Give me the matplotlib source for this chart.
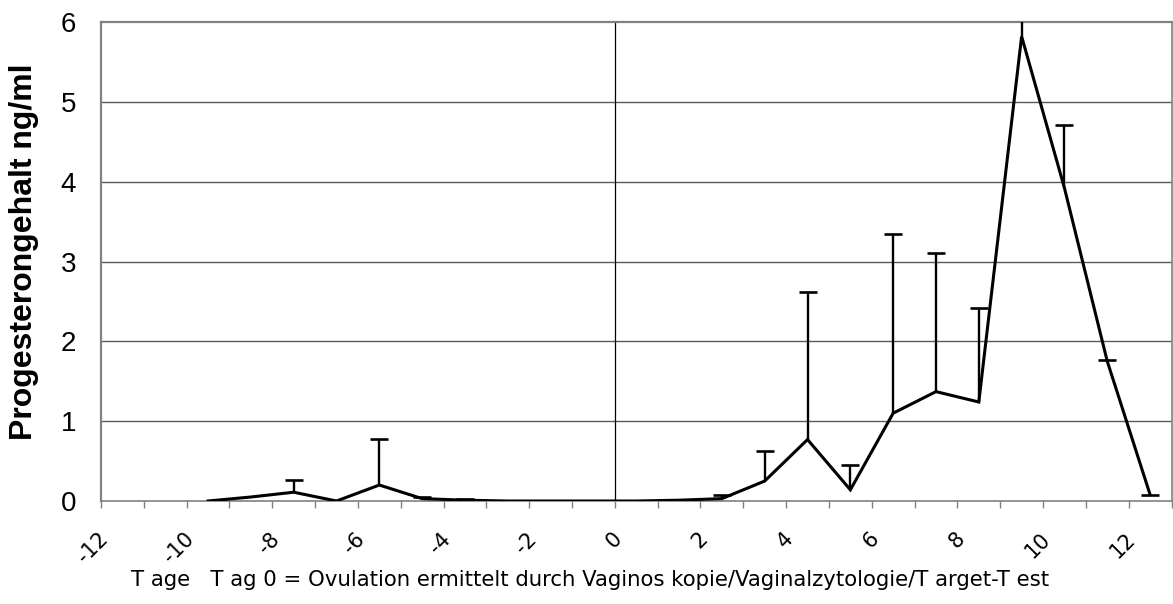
import matplotlib.pyplot as plt
import numpy as np
from matplotlib.transforms import ScaledTranslation

# Tage relativ zur Ovulation (Messwerte jeweils zwischen zwei Tagen)
days = [
    -9.5, -8.5, -7.5, -6.5, -5.5, -4.5, -3.5, -2.5, -1.5, -0.5, 0.5, 1.5,
    2.5, 3.5, 4.5, 5.5, 6.5, 7.5, 8.5, 9.5, 10.5, 11.5, 12.5,
]

# mittlerer Progesterongehalt ng/ml
progesterone = [
    0.0, 0.05, 0.11, 0.0, 0.20, 0.03, 0.01, 0.0, 0.0, 0.0, 0.0, 0.01,
    0.03, 0.25, 0.77, 0.14, 1.10, 1.37, 1.24, 5.82, 3.92, 1.75, 0.08,
]

# obere Grenze der Fehlerbalken (nan = kein Balken)
upper = [
    np.nan, np.nan, 0.26, np.nan, 0.78, 0.05, 0.025, np.nan, np.nan, np.nan, np.nan, np.nan,
    0.07, 0.63, 2.62, 0.45, 3.34, 3.11, 2.42, 6.10, 4.71, 1.77, 0.08,
]

x_ticks = list(range(-12, 13, 2))
y_ticks = [0, 1, 2, 3, 4, 5, 6]

x_label = "T age   T ag 0 = Ovulation ermittelt durch Vaginos kopie/Vaginalzytologie/T arget-T est"
y_label = "Progesterongehalt ng/ml"

narrow = ["Liberation Sans Narrow", "DejaVu Sans"]

W, H = 1173, 604
fig = plt.figure(figsize=(W / 100, H / 100), dpi=100)
left, right, top, bottom = 101, 1171.5, 22, 501
ax = fig.add_axes([left / W, 1 - bottom / H, (right - left) / W, (bottom - top) / H])

days_arr = np.asarray(days)
prog_arr = np.asarray(progesterone)
upper_arr = np.asarray(upper)

ax.set_xlim(-12, 13)
ax.set_ylim(0, 6)

# horizontal grid and the line at day 0
for y in y_ticks[1:-1]:
    ax.axhline(y, color="#5a5a5a", linewidth=1.0, zorder=1)
ax.axvline(0, color="black", linewidth=0.9, zorder=1)

ax.plot(days_arr, prog_arr, color="black", linewidth=2.2, zorder=3,
        solid_joinstyle="miter")

# only the upper half of each error bar, with a cap at its end
has_bar = ~np.isnan(upper_arr)
ax.vlines(days_arr[has_bar], prog_arr[has_bar], upper_arr[has_bar],
          color="black", linewidth=1.7, zorder=3)
ax.plot(days_arr[has_bar], upper_arr[has_bar], linestyle="none", marker="_",
        markersize=13, markeredgewidth=1.9, color="black", zorder=3)

for side in ["left", "top", "right", "bottom"]:
    ax.spines[side].set_color("#808080")
ax.spines["left"].set_linewidth(1.6)
ax.spines["top"].set_linewidth(1.6)
ax.spines["right"].set_linewidth(1.2)
ax.spines["bottom"].set_linewidth(1.2)

ax.set_yticks(y_ticks)
ax.set_yticklabels([str(v) for v in y_ticks], fontsize=20, family="Liberation Sans")
ax.tick_params(axis="y", length=0, pad=18)

ax.set_xticks(range(-12, 14), minor=True)
ax.set_xticks(x_ticks)
ax.set_xticklabels(
    [str(v) for v in x_ticks],
    rotation=45,
    ha="right",
    va="center",
    rotation_mode="anchor",
    fontsize=15,
    family=narrow,
)
ax.tick_params(axis="x", which="both", length=5, width=1, color="#808080", pad=20)
shift = ScaledTranslation(4 / 100, 0, fig.dpi_scale_trans)
for lbl in ax.get_xticklabels():
    lbl.set_transform(lbl.get_transform() + shift)

fig.text(24 / W, 1 - 252 / H, y_label, rotation=90, ha="center", va="center",
         fontsize=23, fontweight="bold", family="Liberation Sans")
fig.text(590 / W, 1 - 580 / H, x_label, ha="center", va="center", fontsize=15.3,
         family=narrow)

fig.savefig("out.png", dpi=100)
